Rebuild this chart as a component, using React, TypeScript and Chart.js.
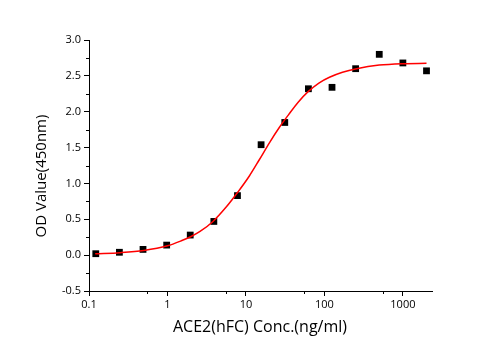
import React, { useEffect, useRef } from "react";
import { Chart, registerables } from "chart.js";

Chart.register(...registerables);

// Measured data (concentration ng/ml, OD450)
const conc = [0.122, 0.244, 0.488, 0.977, 1.95, 3.9, 7.8, 15.6, 31.25, 62.5, 125, 250, 500, 1000, 2000];
const od = [0.02, 0.04, 0.08, 0.14, 0.28, 0.47, 0.83, 1.54, 1.85, 2.32, 2.34, 2.6, 2.8, 2.68, 2.57];

// Fitted curve
const fitX = [0.12, 0.25, 0.5, 1.0, 1.5, 2.0, 2.6, 3.8, 5.6, 7.9, 11, 14.8, 20, 27, 35, 46, 62, 85, 116, 170, 257, 500, 1000, 2000];
const fitY = [0.02, 0.035, 0.065, 0.13, 0.2, 0.26, 0.33, 0.47, 0.67, 0.88, 1.1, 1.33, 1.57, 1.79, 1.96, 2.13, 2.28, 2.4, 2.48, 2.55, 2.6, 2.65, 2.67, 2.675];

// Axis ticks
const xMajorTicks = [0.1, 1, 10, 100, 1000];
const xTickLabels = ["0.1", "1", "10", "100", "1000"];
const xMinorTicks = [0.55, 5.5, 55, 550];
const yMinorTicks = [-0.25, 0.25, 0.75, 1.25, 1.75, 2.25, 2.75];

const xTitle = "ACE2(hFC) Conc.(ng/ml)";
const yTitle = "OD Value(450nm)";

const FONT = "'Open Sans', 'Liberation Sans', sans-serif";

export default function App() {
  const ref = useRef<HTMLCanvasElement | null>(null);

  useEffect(() => {
    if (!ref.current) return;

    const extras = {
      id: "extras",
      afterDraw(chart: any) {
        const ctx = chart.ctx;
        const xs = chart.scales.x;
        const ys = chart.scales.y;
        const area = chart.chartArea;
        ctx.save();
        ctx.strokeStyle = "#000";
        ctx.lineWidth = 1;
        ctx.beginPath();
        for (const v of xMinorTicks) {
          const px = Math.round(xs.getPixelForValue(v)) + 0.5;
          ctx.moveTo(px, area.bottom);
          ctx.lineTo(px, area.bottom + 3);
        }
        for (const v of yMinorTicks) {
          const py = Math.round(ys.getPixelForValue(v)) + 0.5;
          ctx.moveTo(area.left, py);
          ctx.lineTo(area.left - 3, py);
        }
        ctx.stroke();

        ctx.fillStyle = "#000";
        ctx.textAlign = "center";
        ctx.textBaseline = "middle";
        ctx.font = `16px ${FONT}`;
        ctx.fillText(xTitle, 260, 327);
        ctx.font = `15px ${FONT}`;
        ctx.translate(42, 176);
        ctx.rotate(-Math.PI / 2);
        ctx.fillText(yTitle, 0, 0);
        ctx.restore();
      },
    };

    const chart = new Chart(ref.current, {
      type: "scatter",
      data: {
        datasets: [
          {
            type: "line",
            label: "fit",
            data: fitX.map((x, i) => ({ x, y: fitY[i] })),
            borderColor: "#ff0000",
            borderWidth: 1.5,
            pointRadius: 0,
            cubicInterpolationMode: "monotone",
            fill: false,
            order: 0,
          } as any,
          {
            label: "data",
            data: conc.map((x, i) => ({ x, y: od[i] })),
            pointStyle: "rect",
            pointRadius: 4.8,
            borderWidth: 0,
            backgroundColor: "#000",
            borderColor: "#000",
            order: 1,
          },
        ],
      },
      options: {
        responsive: false,
        animation: false,
        layout: { padding: { left: 0, top: 40, right: 69, bottom: 0 } },
        plugins: { legend: { display: false }, tooltip: { enabled: false } },
        scales: {
          x: {
            type: "logarithmic",
            min: 0.1,
            max: 2350,
            afterBuildTicks: (s: any) => {
              s.ticks = xMajorTicks.map((v) => ({ value: v }));
            },
            afterFit: (s: any) => {
              s.height = 59;
            },
            ticks: {
              color: "#000",
              font: { family: FONT, size: 11 },
              padding: 2,
              maxRotation: 0,
              autoSkip: false,
              callback: (v: any) => {
                const i = xMajorTicks.indexOf(Number(v));
                return i >= 0 ? xTickLabels[i] : "";
              },
            },
            grid: { drawOnChartArea: false, drawTicks: true, tickLength: 5, tickColor: "#000" },
            border: { display: true, color: "#000", width: 1 },
          },
          y: {
            min: -0.5,
            max: 3.0,
            afterFit: (s: any) => {
              s.width = 89;
            },
            ticks: {
              stepSize: 0.5,
              color: "#000",
              font: { family: FONT, size: 11 },
              padding: 3,
              callback: (v: any) => Number(v).toFixed(1),
            },
            grid: { drawOnChartArea: false, drawTicks: true, tickLength: 5, tickColor: "#000" },
            border: { display: true, color: "#000", width: 1 },
          },
        },
      },
      plugins: [extras],
    });
    return () => chart.destroy();
  }, []);

  return (
    <div style={{ position: "absolute", left: 0, top: 0, width: 501, height: 350, background: "#fff" }}>
      <canvas ref={ref} width={501} height={350} />
    </div>
  );
}
